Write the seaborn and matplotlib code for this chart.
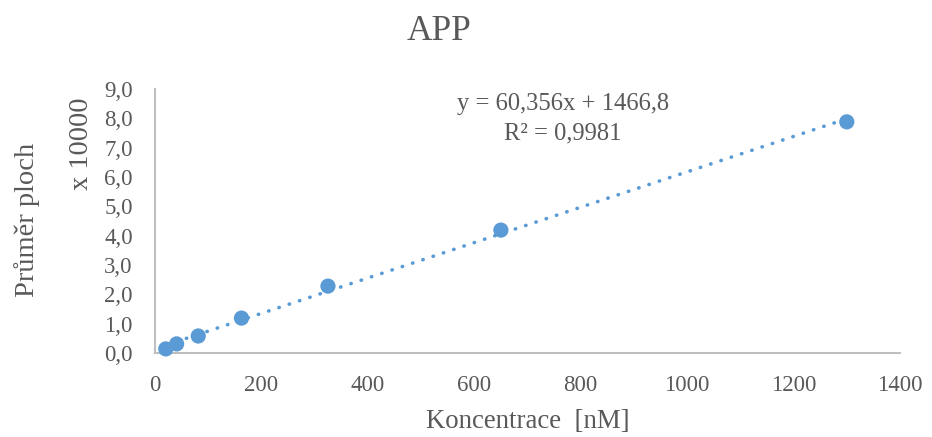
import matplotlib
matplotlib.use("Agg")
import matplotlib.pyplot as plt
import seaborn as sns
import numpy as np
import pandas as pd
from matplotlib.ticker import FuncFormatter, MultipleLocator

# Data
konc = [20.3125, 40.625, 81.25, 162.5, 325, 650, 1300]
plocha = [1400, 3100, 5800, 11900, 22800, 41900, 78800]
x_ticks = [0, 200, 400, 600, 800, 1000, 1200, 1400]
title = "APP"
xlabel = "Koncentrace  [nM]"
ylabel = "Průměr ploch"
unit_label = "x 10000"
eq_text = "y = 60,356x + 1466,8"
r2_text = "R² = 0,9981"

df = pd.DataFrame({"konc": konc, "plocha": plocha})

sns.set_theme(style="white")
plt.rcParams['font.family'] = ['Liberation Serif', 'DejaVu Serif']
grey = "#595959"
blue = "#5B9BD5"

fig = plt.figure(figsize=(9.32, 4.37), dpi=100)
ax = fig.add_axes([155/932, 1-353/437, (900-155)/932, (353-89)/437])

sns.regplot(data=df, x="konc", y="plocha", ax=ax, scatter=False, ci=None,
            line_kws=dict(color=blue, lw=2.6, linestyle=(0, (0.1, 2.9)),
                          dash_capstyle='round'))
sns.scatterplot(data=df, x="konc", y="plocha", ax=ax, color=blue, s=120,
                edgecolor='none', zorder=3, clip_on=False)

ax.set_xlim(0, 1400)
ax.set_ylim(0, 90000)
ax.set_xticks(x_ticks)
ax.yaxis.set_major_locator(MultipleLocator(10000))
ax.yaxis.set_major_formatter(FuncFormatter(lambda v, p: f"{v/10000:.1f}".replace('.', ',')))
ax.xaxis.set_major_formatter(FuncFormatter(lambda v, p: f"{int(v)}"))
ax.tick_params(axis='both', length=0, labelsize=16.5, labelcolor=grey)
ax.tick_params(axis='x', pad=16)
ax.tick_params(axis='y', pad=16)
ax.set_xlabel("")
ax.set_ylabel("")

for s in ['top', 'right']:
    ax.spines[s].set_visible(False)
for s in ['left', 'bottom']:
    ax.spines[s].set_color("#BFBFBF")
    ax.spines[s].set_linewidth(1.5)

fig.text(439/932, 1-31/437, title, ha='center', va='center', fontsize=25.5, color=grey)
fig.text(528/932, 1-422/437, xlabel, ha='center', va='center', fontsize=19.3, color=grey)
fig.text(27/932, 1-220/437, ylabel, ha='center', va='center', rotation=90, fontsize=20.5, color=grey)
fig.text(82/932, 1-144/437, unit_label, ha='center', va='center', rotation=90, fontsize=20.5, color=grey)
fig.text(563/932, 1-104/437, eq_text, ha='center', va='center', fontsize=17.7, color=grey)
fig.text(563/932, 1-133/437, r2_text, ha='center', va='center', fontsize=17.7, color=grey)

fig.savefig("out.png", dpi=100)
